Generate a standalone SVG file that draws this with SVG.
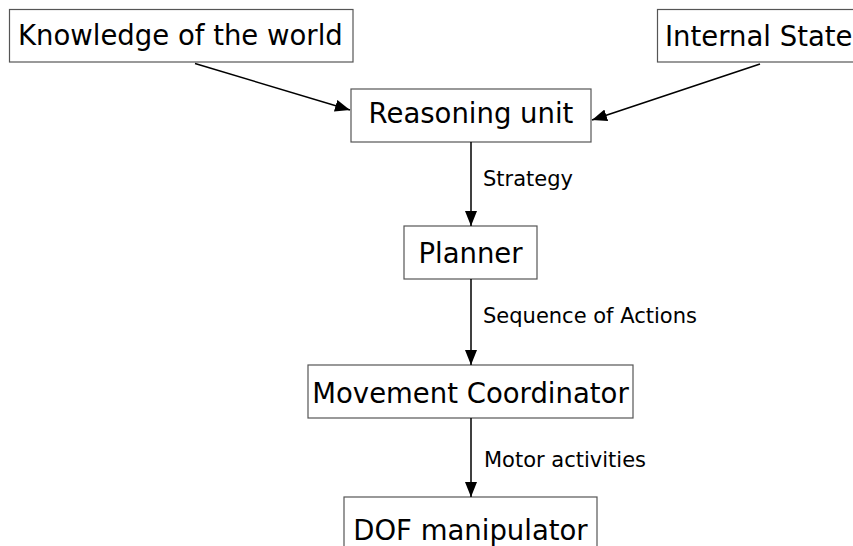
<svg xmlns="http://www.w3.org/2000/svg" width="853" height="546" viewBox="0 0 853 546">
<style>
.box{fill:#fff;stroke:#555;stroke-width:1.2}
.t{font-family:"DejaVu Sans",sans-serif;font-size:27.5px;fill:#000}
.l{font-family:"DejaVu Sans",sans-serif;font-size:21px;fill:#000}
.c{fill:none;stroke:#000;stroke-width:1.5}
</style>
<defs>
<marker id="ah" markerUnits="userSpaceOnUse" markerWidth="16" markerHeight="12" refX="15" refY="6" orient="auto">
<path d="M0,0 L15,6 L0,12 Z" fill="#000"/>
</marker>
</defs>
<rect width="853" height="546" fill="#fff"/>
<g id="knowledge"><rect class="box" x="9.5" y="9.5" width="343.5" height="52.5"/><text class="t" x="18" y="45">Knowledge of the world</text></g>
<g id="internal"><rect class="box" x="657.5" y="9.5" width="200" height="52.5"/><text class="t" x="665" y="46">Internal State</text></g>
<g id="reasoning"><rect class="box" x="351" y="89" width="240" height="53"/><text class="t" x="471" y="123" text-anchor="middle">Reasoning unit</text></g>
<g id="planner"><rect class="box" x="404" y="226" width="133" height="53"/><text class="t" x="470.5" y="263" text-anchor="middle">Planner</text></g>
<g id="movement"><rect class="box" x="308" y="365" width="325" height="53"/><text class="t" x="470.5" y="403" text-anchor="middle">Movement Coordinator</text></g>
<g id="dof"><rect class="box" x="344" y="497" width="253" height="60"/><text class="t" x="470.5" y="540" text-anchor="middle">DOF manipulator</text></g>
<g id="connectors">
<line class="c" x1="195" y1="63.5" x2="350" y2="110" marker-end="url(#ah)"/>
<line class="c" x1="760" y1="64" x2="592" y2="120" marker-end="url(#ah)"/>
<line class="c" x1="471" y1="142" x2="471" y2="226" marker-end="url(#ah)"/>
<line class="c" x1="471" y1="279" x2="471" y2="365" marker-end="url(#ah)"/>
<line class="c" x1="471" y1="418" x2="471" y2="497" marker-end="url(#ah)"/>
<text class="l" x="483" y="186">Strategy</text>
<text class="l" x="483" y="323">Sequence of Actions</text>
<text class="l" x="484" y="467">Motor activities</text>
</g>
</svg>
